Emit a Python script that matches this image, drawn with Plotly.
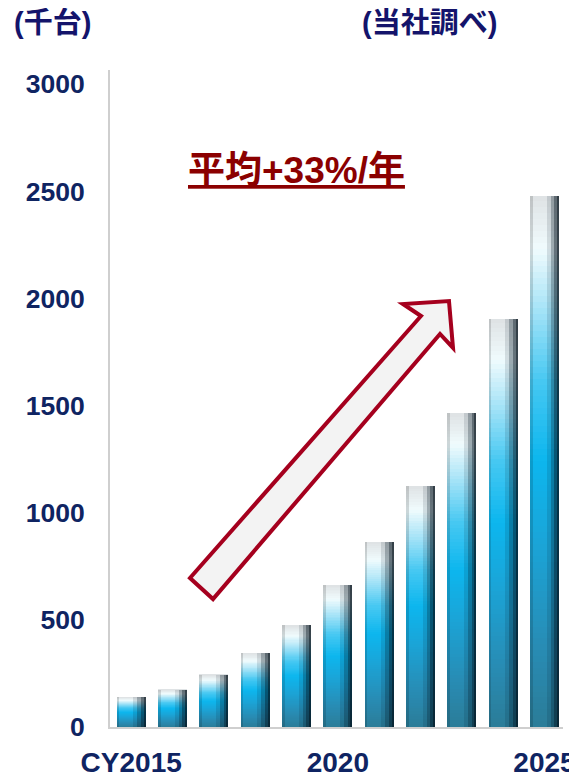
import plotly.graph_objects as go

# ---- data ----
years = [2015, 2016, 2017, 2018, 2019, 2020, 2021, 2022, 2023, 2024, 2025]
units = [140, 175, 245, 345, 475, 665, 865, 1125, 1465, 1905, 2480]  # 千台
tick_years = [2015, 2020, 2025]
tick_text = ["CY2015", "2020", "2025"]
y_ticks = [0, 500, 1000, 1500, 2000, 2500, 3000]

FONT = "Liberation Sans, Arial, Noto Sans CJK JP, sans-serif"
NAVY = "#14146B"
TICK = "#0F2462"
RED = "#A5001E"

OFF = 8  # page body margin
W, H = 577 - OFF, 777 - OFF
L, T = 110 - OFF, 70 - OFF
R, B = W - (563 - OFF), H - (727 - OFF)
PW, PH = W - L - R, H - T - B


def px(x, y):
    # page-pixel position -> paper coords
    return (x - OFF - L) / PW, (H - B - (y - OFF)) / PH


# vertical gradient stops (fraction from bottom, rgb)
stops = [
    (0.00, (43, 124, 152)),
    (0.15, (40, 140, 180)),
    (0.35, (26, 165, 216)),
    (0.50, (12, 182, 238)),
    (0.65, (70, 200, 242)),
    (0.80, (175, 230, 248)),
    (0.90, (240, 251, 253)),
    (1.00, (222, 226, 228)),
]


def col_at(t):
    for (t0, c0), (t1, c1) in zip(stops[:-1], stops[1:]):
        if t <= t1:
            f = (t - t0) / (t1 - t0) if t1 > t0 else 0
            c = [round(a + (b - a) * f) for a, b in zip(c0, c1)]
            return "rgb(%d,%d,%d)" % tuple(c)
    return "rgb(%d,%d,%d)" % stops[-1][1]


fig = go.Figure()
BW = 0.70
N = 90
for j in range(N):
    fig.add_trace(go.Bar(
        x=years,
        y=[v / N for v in units],
        base=[v * j / N for v in units],
        width=BW, offset=-BW / 2,
        marker=dict(color=col_at((j + 0.5) / N), line=dict(width=0)),
        hoverinfo="skip", showlegend=False,
    ))

# horizontal shading strips (right dark edge, left subtle edge)
strips = [
    (0.30, 0.35 - 0.30, "rgba(0,20,30,0.12)"),
    (0.20, 0.35 - 0.20, "rgba(0,20,30,0.25)"),
    (0.11, 0.35 - 0.11, "rgba(0,15,25,0.35)"),
    (0.05, 0.35 - 0.05, "rgba(0,10,20,0.45)"),
    (0.06, -0.35, "rgba(0,0,0,0.14)"),
]
for w, off, c in strips:
    fig.add_trace(go.Bar(
        x=years, y=units, width=w, offset=off,
        marker=dict(color=c, line=dict(width=0)),
        hoverinfo="skip", showlegend=False,
    ))

# arrow (decoration, page-pixel outline converted to paper coords)
arrow_px = [(190, 578), (421, 316), (403, 304), (449, 301), (453, 348),
            (440, 334), (213, 599)]
pts = [px(x, y) for x, y in arrow_px]
path = "M " + " L ".join("%.4f %.4f" % p for p in pts) + " Z"

fig.update_layout(
    width=W, height=H,
    margin=dict(l=L, r=R, t=T, b=B, pad=0, autoexpand=False),
    paper_bgcolor="white", plot_bgcolor="white",
    barmode="overlay", bargap=0,
    xaxis=dict(
        range=[2014.487, 2025.448], automargin=False,
        tickmode="array", tickvals=tick_years, ticktext=tick_text,
        showgrid=False, zeroline=False,
        showline=True, linecolor="#CFCFCF", linewidth=2,
        ticks="", ticklabelstandoff=9, ticklabeloverflow="allow",
        tickfont=dict(family=FONT, size=28, color=TICK, weight="bold"),
    ),
    yaxis=dict(
        range=[0, 3066], automargin=False,
        tickmode="array", tickvals=y_ticks,
        showgrid=False, zeroline=False,
        showline=True, linecolor="#CFCFCF", linewidth=2,
        ticks="", ticklabelstandoff=18,
        tickfont=dict(family=FONT, size=26.5, color=TICK, weight="bold"),
    ),
    shapes=[dict(type="path", xref="paper", yref="paper", path=path,
                 fillcolor="#F3F3F3", line=dict(color=RED, width=4),
                 layer="above")],
    annotations=[
        dict(text="(千台)", xref="paper", yref="paper",
             x=px(12, 0)[0], y=px(0, 23)[1], xanchor="left", yanchor="middle",
             showarrow=False,
             font=dict(family=FONT, size=29, color=NAVY, weight="bold")),
        dict(text="(当社調べ)", xref="paper", yref="paper",
             x=px(499, 0)[0], y=px(0, 23)[1], xanchor="right", yanchor="middle",
             showarrow=False,
             font=dict(family=FONT, size=29, color=NAVY, weight="bold")),
        dict(text="<u>平均+33%/年</u>", xref="paper", yref="paper",
             x=px(186, 0)[0], y=px(0, 170)[1], xanchor="left", yanchor="middle",
             showarrow=False,
             font=dict(family=FONT, size=37, color="#8B0000", weight="bold")),
    ],
)

fig.write_html("out.html")
